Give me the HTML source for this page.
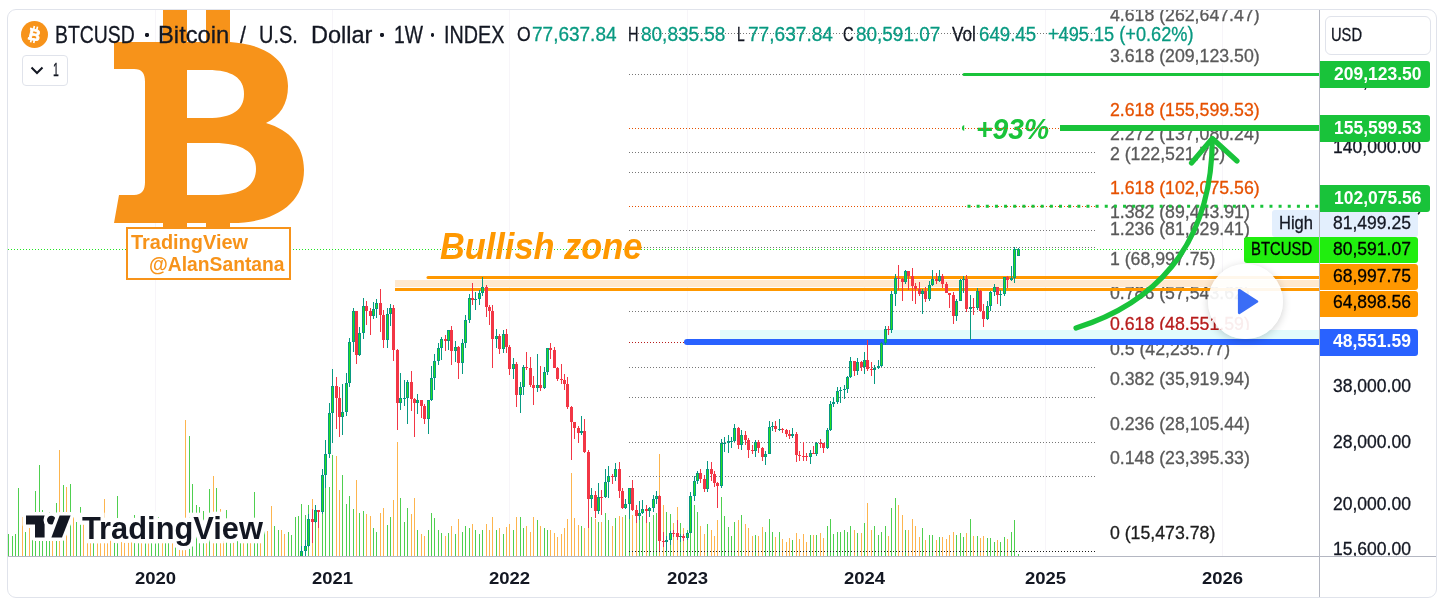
<!DOCTYPE html>
<html><head><meta charset="utf-8"><title>BTCUSD chart</title>
<style>
html,body{margin:0;padding:0;background:#fff}
body{width:1441px;height:603px;overflow:hidden;position:relative;font-family:"Liberation Sans",sans-serif}
#frame{position:absolute;left:7px;top:9px;width:1430px;height:589px;border:1px solid #e0e3eb;border-radius:9px;box-sizing:border-box;pointer-events:none}
#clip{position:absolute;left:8px;top:10px;width:1428px;height:587px;overflow:hidden;border-radius:8px}
#in{position:absolute;left:-8px;top:-10px;width:1441px;height:603px;will-change:transform}
.t{-webkit-text-stroke:0.3px currentColor;position:absolute;white-space:nowrap;line-height:1;transform-origin:0 0}
svg{position:absolute;left:0;top:0;overflow:visible}
</style></head><body>
<div id="clip"><div id="in">
<svg width="1441" height="603"><defs><clipPath id="pane"><rect x="8" y="10" width="1311" height="546"/></clipPath></defs>
<rect x="155" y="10" width="1" height="546" fill="#f7f5f9"/><rect x="332" y="10" width="1" height="546" fill="#f7f5f9"/><rect x="509" y="10" width="1" height="546" fill="#f7f5f9"/><rect x="687" y="10" width="1" height="546" fill="#f7f5f9"/><rect x="864" y="10" width="1" height="546" fill="#f7f5f9"/><rect x="1045" y="10" width="1" height="546" fill="#f7f5f9"/><rect x="1222" y="10" width="1" height="546" fill="#f7f5f9"/><rect x="8" y="534" width="1" height="22" fill="#4fcf4f"/><rect x="12" y="536" width="1" height="20" fill="#4fcf4f"/><rect x="15" y="534" width="1" height="22" fill="#4fcf4f"/><rect x="18" y="488" width="1" height="68" fill="#4fcf4f"/><rect x="22" y="517" width="1" height="39" fill="#fdb54e"/><rect x="25" y="532" width="1" height="24" fill="#4fcf4f"/><rect x="29" y="527" width="1" height="29" fill="#fdb54e"/><rect x="32" y="526" width="1" height="30" fill="#4fcf4f"/><rect x="35" y="491" width="1" height="65" fill="#4fcf4f"/><rect x="39" y="465" width="1" height="91" fill="#4fcf4f"/><rect x="42" y="510" width="1" height="46" fill="#4fcf4f"/><rect x="46" y="526" width="1" height="30" fill="#4fcf4f"/><rect x="49" y="512" width="1" height="44" fill="#4fcf4f"/><rect x="52" y="526" width="1" height="30" fill="#fdb54e"/><rect x="56" y="503" width="1" height="53" fill="#4fcf4f"/><rect x="59" y="450" width="1" height="106" fill="#fdb54e"/><rect x="63" y="485" width="1" height="71" fill="#4fcf4f"/><rect x="66" y="487" width="1" height="69" fill="#fdb54e"/><rect x="70" y="484" width="1" height="72" fill="#4fcf4f"/><rect x="73" y="517" width="1" height="39" fill="#fdb54e"/><rect x="76" y="522" width="1" height="34" fill="#4fcf4f"/><rect x="80" y="507" width="1" height="49" fill="#4fcf4f"/><rect x="83" y="522" width="1" height="34" fill="#fdb54e"/><rect x="87" y="526" width="1" height="30" fill="#fdb54e"/><rect x="90" y="526" width="1" height="30" fill="#fdb54e"/><rect x="93" y="526" width="1" height="30" fill="#4fcf4f"/><rect x="97" y="526" width="1" height="30" fill="#fdb54e"/><rect x="100" y="526" width="1" height="30" fill="#fdb54e"/><rect x="104" y="499" width="1" height="57" fill="#fdb54e"/><rect x="107" y="526" width="1" height="30" fill="#fdb54e"/><rect x="110" y="526" width="1" height="30" fill="#fdb54e"/><rect x="114" y="526" width="1" height="30" fill="#4fcf4f"/><rect x="117" y="496" width="1" height="60" fill="#4fcf4f"/><rect x="121" y="526" width="1" height="30" fill="#fdb54e"/><rect x="124" y="526" width="1" height="30" fill="#fdb54e"/><rect x="128" y="526" width="1" height="30" fill="#fdb54e"/><rect x="131" y="526" width="1" height="30" fill="#fdb54e"/><rect x="134" y="515" width="1" height="41" fill="#4fcf4f"/><rect x="138" y="526" width="1" height="30" fill="#4fcf4f"/><rect x="141" y="526" width="1" height="30" fill="#fdb54e"/><rect x="145" y="516" width="1" height="40" fill="#4fcf4f"/><rect x="148" y="526" width="1" height="30" fill="#fdb54e"/><rect x="151" y="517" width="1" height="39" fill="#4fcf4f"/><rect x="155" y="517" width="1" height="39" fill="#4fcf4f"/><rect x="158" y="517" width="1" height="39" fill="#4fcf4f"/><rect x="162" y="526" width="1" height="30" fill="#fdb54e"/><rect x="165" y="526" width="1" height="30" fill="#4fcf4f"/><rect x="168" y="526" width="1" height="30" fill="#4fcf4f"/><rect x="172" y="520" width="1" height="36" fill="#fdb54e"/><rect x="175" y="531" width="1" height="25" fill="#4fcf4f"/><rect x="179" y="531" width="1" height="25" fill="#fdb54e"/><rect x="182" y="531" width="1" height="25" fill="#fdb54e"/><rect x="185" y="420" width="1" height="136" fill="#fdb54e"/><rect x="189" y="436" width="1" height="120" fill="#4fcf4f"/><rect x="192" y="484" width="1" height="72" fill="#4fcf4f"/><rect x="196" y="505" width="1" height="51" fill="#4fcf4f"/><rect x="199" y="507" width="1" height="49" fill="#4fcf4f"/><rect x="203" y="511" width="1" height="45" fill="#4fcf4f"/><rect x="206" y="515" width="1" height="41" fill="#fdb54e"/><rect x="209" y="489" width="1" height="67" fill="#4fcf4f"/><rect x="213" y="476" width="1" height="80" fill="#fdb54e"/><rect x="216" y="488" width="1" height="68" fill="#4fcf4f"/><rect x="220" y="509" width="1" height="47" fill="#fdb54e"/><rect x="223" y="521" width="1" height="35" fill="#fdb54e"/><rect x="226" y="510" width="1" height="46" fill="#4fcf4f"/><rect x="230" y="526" width="1" height="30" fill="#4fcf4f"/><rect x="233" y="526" width="1" height="30" fill="#fdb54e"/><rect x="237" y="526" width="1" height="30" fill="#4fcf4f"/><rect x="240" y="526" width="1" height="30" fill="#4fcf4f"/><rect x="243" y="526" width="1" height="30" fill="#fdb54e"/><rect x="247" y="526" width="1" height="30" fill="#4fcf4f"/><rect x="250" y="526" width="1" height="30" fill="#fdb54e"/><rect x="254" y="492" width="1" height="64" fill="#4fcf4f"/><rect x="257" y="526" width="1" height="30" fill="#4fcf4f"/><rect x="260" y="526" width="1" height="30" fill="#fdb54e"/><rect x="264" y="528" width="1" height="28" fill="#4fcf4f"/><rect x="267" y="531" width="1" height="25" fill="#fdb54e"/><rect x="271" y="506" width="1" height="50" fill="#fdb54e"/><rect x="274" y="526" width="1" height="30" fill="#4fcf4f"/><rect x="278" y="530" width="1" height="26" fill="#4fcf4f"/><rect x="281" y="530" width="1" height="26" fill="#fdb54e"/><rect x="284" y="534" width="1" height="22" fill="#fdb54e"/><rect x="288" y="532" width="1" height="24" fill="#4fcf4f"/><rect x="291" y="535" width="1" height="21" fill="#4fcf4f"/><rect x="295" y="517" width="1" height="39" fill="#4fcf4f"/><rect x="298" y="516" width="1" height="40" fill="#4fcf4f"/><rect x="301" y="504" width="1" height="52" fill="#4fcf4f"/><rect x="305" y="515" width="1" height="41" fill="#4fcf4f"/><rect x="308" y="505" width="1" height="51" fill="#4fcf4f"/><rect x="312" y="499" width="1" height="57" fill="#fdb54e"/><rect x="315" y="505" width="1" height="51" fill="#4fcf4f"/><rect x="318" y="510" width="1" height="46" fill="#fdb54e"/><rect x="322" y="469" width="1" height="87" fill="#4fcf4f"/><rect x="325" y="440" width="1" height="116" fill="#4fcf4f"/><rect x="329" y="487" width="1" height="69" fill="#4fcf4f"/><rect x="332" y="455" width="1" height="101" fill="#4fcf4f"/><rect x="336" y="456" width="1" height="100" fill="#fdb54e"/><rect x="339" y="490" width="1" height="66" fill="#fdb54e"/><rect x="342" y="475" width="1" height="81" fill="#4fcf4f"/><rect x="346" y="504" width="1" height="52" fill="#4fcf4f"/><rect x="349" y="496" width="1" height="60" fill="#4fcf4f"/><rect x="353" y="509" width="1" height="47" fill="#4fcf4f"/><rect x="356" y="480" width="1" height="76" fill="#fdb54e"/><rect x="359" y="513" width="1" height="43" fill="#4fcf4f"/><rect x="363" y="511" width="1" height="45" fill="#4fcf4f"/><rect x="366" y="514" width="1" height="42" fill="#fdb54e"/><rect x="370" y="516" width="1" height="40" fill="#fdb54e"/><rect x="373" y="528" width="1" height="28" fill="#4fcf4f"/><rect x="376" y="532" width="1" height="24" fill="#4fcf4f"/><rect x="380" y="513" width="1" height="43" fill="#fdb54e"/><rect x="383" y="508" width="1" height="48" fill="#fdb54e"/><rect x="387" y="525" width="1" height="31" fill="#4fcf4f"/><rect x="390" y="517" width="1" height="39" fill="#4fcf4f"/><rect x="393" y="500" width="1" height="56" fill="#fdb54e"/><rect x="397" y="442" width="1" height="114" fill="#fdb54e"/><rect x="400" y="498" width="1" height="58" fill="#4fcf4f"/><rect x="404" y="522" width="1" height="34" fill="#4fcf4f"/><rect x="407" y="508" width="1" height="48" fill="#4fcf4f"/><rect x="411" y="514" width="1" height="42" fill="#fdb54e"/><rect x="414" y="498" width="1" height="58" fill="#fdb54e"/><rect x="417" y="530" width="1" height="26" fill="#4fcf4f"/><rect x="421" y="534" width="1" height="22" fill="#fdb54e"/><rect x="424" y="536" width="1" height="20" fill="#fdb54e"/><rect x="428" y="530" width="1" height="26" fill="#4fcf4f"/><rect x="431" y="513" width="1" height="43" fill="#4fcf4f"/><rect x="434" y="518" width="1" height="38" fill="#4fcf4f"/><rect x="438" y="530" width="1" height="26" fill="#4fcf4f"/><rect x="441" y="533" width="1" height="23" fill="#4fcf4f"/><rect x="445" y="536" width="1" height="20" fill="#fdb54e"/><rect x="448" y="533" width="1" height="23" fill="#4fcf4f"/><rect x="451" y="526" width="1" height="30" fill="#fdb54e"/><rect x="455" y="534" width="1" height="22" fill="#4fcf4f"/><rect x="458" y="519" width="1" height="37" fill="#fdb54e"/><rect x="462" y="532" width="1" height="24" fill="#4fcf4f"/><rect x="465" y="526" width="1" height="30" fill="#4fcf4f"/><rect x="469" y="528" width="1" height="28" fill="#4fcf4f"/><rect x="472" y="524" width="1" height="32" fill="#fdb54e"/><rect x="475" y="530" width="1" height="26" fill="#4fcf4f"/><rect x="479" y="534" width="1" height="22" fill="#4fcf4f"/><rect x="482" y="530" width="1" height="26" fill="#4fcf4f"/><rect x="486" y="524" width="1" height="32" fill="#fdb54e"/><rect x="489" y="530" width="1" height="26" fill="#fdb54e"/><rect x="492" y="517" width="1" height="39" fill="#fdb54e"/><rect x="496" y="530" width="1" height="26" fill="#4fcf4f"/><rect x="499" y="528" width="1" height="28" fill="#fdb54e"/><rect x="503" y="534" width="1" height="22" fill="#4fcf4f"/><rect x="506" y="527" width="1" height="29" fill="#fdb54e"/><rect x="509" y="524" width="1" height="32" fill="#fdb54e"/><rect x="513" y="530" width="1" height="26" fill="#4fcf4f"/><rect x="516" y="517" width="1" height="39" fill="#fdb54e"/><rect x="520" y="517" width="1" height="39" fill="#4fcf4f"/><rect x="523" y="528" width="1" height="28" fill="#4fcf4f"/><rect x="526" y="526" width="1" height="30" fill="#fdb54e"/><rect x="530" y="532" width="1" height="24" fill="#fdb54e"/><rect x="533" y="517" width="1" height="39" fill="#fdb54e"/><rect x="537" y="520" width="1" height="36" fill="#4fcf4f"/><rect x="540" y="526" width="1" height="30" fill="#fdb54e"/><rect x="544" y="528" width="1" height="28" fill="#4fcf4f"/><rect x="547" y="530" width="1" height="26" fill="#4fcf4f"/><rect x="550" y="530" width="1" height="26" fill="#fdb54e"/><rect x="554" y="533" width="1" height="23" fill="#fdb54e"/><rect x="557" y="537" width="1" height="19" fill="#fdb54e"/><rect x="561" y="534" width="1" height="22" fill="#fdb54e"/><rect x="564" y="528" width="1" height="28" fill="#fdb54e"/><rect x="567" y="519" width="1" height="37" fill="#fdb54e"/><rect x="571" y="473" width="1" height="83" fill="#fdb54e"/><rect x="574" y="518" width="1" height="38" fill="#fdb54e"/><rect x="578" y="525" width="1" height="31" fill="#fdb54e"/><rect x="581" y="526" width="1" height="30" fill="#4fcf4f"/><rect x="584" y="528" width="1" height="28" fill="#fdb54e"/><rect x="588" y="520" width="1" height="36" fill="#fdb54e"/><rect x="591" y="517" width="1" height="39" fill="#4fcf4f"/><rect x="595" y="519" width="1" height="37" fill="#fdb54e"/><rect x="598" y="522" width="1" height="34" fill="#4fcf4f"/><rect x="601" y="522" width="1" height="34" fill="#fdb54e"/><rect x="605" y="513" width="1" height="43" fill="#4fcf4f"/><rect x="608" y="520" width="1" height="36" fill="#4fcf4f"/><rect x="612" y="526" width="1" height="30" fill="#fdb54e"/><rect x="615" y="518" width="1" height="38" fill="#4fcf4f"/><rect x="619" y="516" width="1" height="40" fill="#fdb54e"/><rect x="622" y="517" width="1" height="39" fill="#fdb54e"/><rect x="625" y="515" width="1" height="41" fill="#4fcf4f"/><rect x="629" y="515" width="1" height="41" fill="#4fcf4f"/><rect x="632" y="515" width="1" height="41" fill="#fdb54e"/><rect x="636" y="518" width="1" height="38" fill="#fdb54e"/><rect x="639" y="515" width="1" height="41" fill="#4fcf4f"/><rect x="642" y="516" width="1" height="40" fill="#4fcf4f"/><rect x="646" y="520" width="1" height="36" fill="#fdb54e"/><rect x="649" y="522" width="1" height="34" fill="#4fcf4f"/><rect x="653" y="515" width="1" height="41" fill="#4fcf4f"/><rect x="656" y="513" width="1" height="43" fill="#4fcf4f"/><rect x="659" y="454" width="1" height="102" fill="#fdb54e"/><rect x="663" y="505" width="1" height="51" fill="#fdb54e"/><rect x="666" y="512" width="1" height="44" fill="#4fcf4f"/><rect x="670" y="514" width="1" height="42" fill="#4fcf4f"/><rect x="673" y="523" width="1" height="33" fill="#fdb54e"/><rect x="677" y="507" width="1" height="49" fill="#fdb54e"/><rect x="680" y="523" width="1" height="33" fill="#4fcf4f"/><rect x="683" y="528" width="1" height="28" fill="#fdb54e"/><rect x="687" y="530" width="1" height="26" fill="#4fcf4f"/><rect x="690" y="526" width="1" height="30" fill="#4fcf4f"/><rect x="694" y="505" width="1" height="51" fill="#4fcf4f"/><rect x="697" y="512" width="1" height="44" fill="#4fcf4f"/><rect x="700" y="526" width="1" height="30" fill="#fdb54e"/><rect x="704" y="534" width="1" height="22" fill="#fdb54e"/><rect x="707" y="524" width="1" height="32" fill="#4fcf4f"/><rect x="711" y="530" width="1" height="26" fill="#fdb54e"/><rect x="714" y="536" width="1" height="20" fill="#fdb54e"/><rect x="717" y="520" width="1" height="36" fill="#fdb54e"/><rect x="721" y="497" width="1" height="59" fill="#4fcf4f"/><rect x="724" y="516" width="1" height="40" fill="#4fcf4f"/><rect x="728" y="527" width="1" height="29" fill="#4fcf4f"/><rect x="731" y="536" width="1" height="20" fill="#4fcf4f"/><rect x="734" y="522" width="1" height="34" fill="#4fcf4f"/><rect x="738" y="520" width="1" height="36" fill="#fdb54e"/><rect x="741" y="515" width="1" height="41" fill="#4fcf4f"/><rect x="745" y="524" width="1" height="32" fill="#fdb54e"/><rect x="748" y="528" width="1" height="28" fill="#fdb54e"/><rect x="752" y="536" width="1" height="20" fill="#fdb54e"/><rect x="755" y="535" width="1" height="21" fill="#4fcf4f"/><rect x="758" y="536" width="1" height="20" fill="#fdb54e"/><rect x="762" y="527" width="1" height="29" fill="#fdb54e"/><rect x="765" y="532" width="1" height="24" fill="#4fcf4f"/><rect x="769" y="519" width="1" height="37" fill="#4fcf4f"/><rect x="772" y="532" width="1" height="24" fill="#4fcf4f"/><rect x="775" y="537" width="1" height="19" fill="#fdb54e"/><rect x="779" y="532" width="1" height="24" fill="#4fcf4f"/><rect x="782" y="539" width="1" height="17" fill="#fdb54e"/><rect x="786" y="542" width="1" height="14" fill="#fdb54e"/><rect x="789" y="538" width="1" height="18" fill="#fdb54e"/><rect x="792" y="540" width="1" height="16" fill="#4fcf4f"/><rect x="796" y="533" width="1" height="23" fill="#fdb54e"/><rect x="799" y="539" width="1" height="17" fill="#fdb54e"/><rect x="803" y="534" width="1" height="22" fill="#fdb54e"/><rect x="806" y="542" width="1" height="14" fill="#fdb54e"/><rect x="810" y="535" width="1" height="21" fill="#4fcf4f"/><rect x="813" y="535" width="1" height="21" fill="#fdb54e"/><rect x="816" y="535" width="1" height="21" fill="#4fcf4f"/><rect x="820" y="533" width="1" height="23" fill="#fdb54e"/><rect x="823" y="538" width="1" height="18" fill="#fdb54e"/><rect x="827" y="526" width="1" height="30" fill="#4fcf4f"/><rect x="830" y="519" width="1" height="37" fill="#4fcf4f"/><rect x="833" y="534" width="1" height="22" fill="#4fcf4f"/><rect x="837" y="532" width="1" height="24" fill="#4fcf4f"/><rect x="840" y="532" width="1" height="24" fill="#4fcf4f"/><rect x="844" y="530" width="1" height="26" fill="#4fcf4f"/><rect x="847" y="532" width="1" height="24" fill="#4fcf4f"/><rect x="850" y="526" width="1" height="30" fill="#4fcf4f"/><rect x="854" y="530" width="1" height="26" fill="#fdb54e"/><rect x="857" y="533" width="1" height="23" fill="#4fcf4f"/><rect x="861" y="533" width="1" height="23" fill="#fdb54e"/><rect x="864" y="523" width="1" height="33" fill="#4fcf4f"/><rect x="867" y="503" width="1" height="53" fill="#fdb54e"/><rect x="871" y="530" width="1" height="26" fill="#fdb54e"/><rect x="874" y="526" width="1" height="30" fill="#4fcf4f"/><rect x="878" y="535" width="1" height="21" fill="#4fcf4f"/><rect x="881" y="532" width="1" height="24" fill="#4fcf4f"/><rect x="885" y="526" width="1" height="30" fill="#4fcf4f"/><rect x="888" y="536" width="1" height="20" fill="#fdb54e"/><rect x="891" y="508" width="1" height="48" fill="#4fcf4f"/><rect x="895" y="498" width="1" height="58" fill="#4fcf4f"/><rect x="898" y="505" width="1" height="51" fill="#fdb54e"/><rect x="902" y="515" width="1" height="41" fill="#fdb54e"/><rect x="905" y="530" width="1" height="26" fill="#4fcf4f"/><rect x="908" y="530" width="1" height="26" fill="#fdb54e"/><rect x="912" y="519" width="1" height="37" fill="#fdb54e"/><rect x="915" y="526" width="1" height="30" fill="#fdb54e"/><rect x="919" y="537" width="1" height="19" fill="#fdb54e"/><rect x="922" y="528" width="1" height="28" fill="#4fcf4f"/><rect x="925" y="540" width="1" height="16" fill="#fdb54e"/><rect x="929" y="535" width="1" height="21" fill="#4fcf4f"/><rect x="932" y="535" width="1" height="21" fill="#4fcf4f"/><rect x="936" y="540" width="1" height="16" fill="#fdb54e"/><rect x="939" y="537" width="1" height="19" fill="#4fcf4f"/><rect x="942" y="537" width="1" height="19" fill="#fdb54e"/><rect x="946" y="539" width="1" height="17" fill="#fdb54e"/><rect x="949" y="535" width="1" height="21" fill="#fdb54e"/><rect x="953" y="532" width="1" height="24" fill="#fdb54e"/><rect x="956" y="535" width="1" height="21" fill="#4fcf4f"/><rect x="960" y="533" width="1" height="23" fill="#4fcf4f"/><rect x="963" y="537" width="1" height="19" fill="#4fcf4f"/><rect x="966" y="533" width="1" height="23" fill="#fdb54e"/><rect x="970" y="519" width="1" height="37" fill="#4fcf4f"/><rect x="973" y="536" width="1" height="20" fill="#fdb54e"/><rect x="977" y="536" width="1" height="20" fill="#4fcf4f"/><rect x="980" y="538" width="1" height="18" fill="#fdb54e"/><rect x="983" y="536" width="1" height="20" fill="#fdb54e"/><rect x="987" y="538" width="1" height="18" fill="#4fcf4f"/><rect x="990" y="538" width="1" height="18" fill="#4fcf4f"/><rect x="994" y="542" width="1" height="14" fill="#4fcf4f"/><rect x="997" y="540" width="1" height="16" fill="#fdb54e"/><rect x="1000" y="542" width="1" height="14" fill="#4fcf4f"/><rect x="1004" y="537" width="1" height="19" fill="#4fcf4f"/><rect x="1007" y="539" width="1" height="17" fill="#fdb54e"/><rect x="1011" y="532" width="1" height="24" fill="#4fcf4f"/><rect x="1014" y="520" width="1" height="36" fill="#4fcf4f"/><rect x="1018" y="554" width="1" height="2" fill="#4fcf4f"/><path d="M114,42 L163,42 L163,9 L187,9 L187,42 L206,42 L206,9 L230,9 L230,42 C262,44 288,58 288,86 C288,104 280,116 266,123 C290,130 304,146 304,170 C304,204 274,223 232,223 L230,223 L230,228 L206,228 L206,223 L187,223 L187,228 L163,228 L163,223 L114,223 L119,195 L134,195 C142,195 145,190 145,182 L145,82 C145,73 142,69 134,69 L114,69 Z M187,70 L187,118 L208,118 C232,118 244,110 244,94 C244,78 232,70 208,70 Z M187,143 L187,195 L214,195 C242,195 256,186 256,169 C256,152 242,143 214,143 Z" fill="#f7931a" fill-rule="evenodd"/><line x1="8" x2="1319" y1="249.5" y2="249.5" stroke="#1fe61f" stroke-width="1" stroke-dasharray="1 2"/><line x1="629" x2="1096" y1="33.5" y2="33.5" stroke="#777" stroke-width="1" stroke-dasharray="1 2"/><line x1="629" x2="1096" y1="74.5" y2="74.5" stroke="#777" stroke-width="1" stroke-dasharray="1 2"/><line x1="629" x2="1096" y1="128.5" y2="128.5" stroke="#e65100" stroke-width="1" stroke-dasharray="1 2"/><line x1="629" x2="1096" y1="152.5" y2="152.5" stroke="#777" stroke-width="1" stroke-dasharray="1 2"/><line x1="629" x2="1096" y1="172.5" y2="172.5" stroke="#777" stroke-width="1" stroke-dasharray="1 2"/><line x1="629" x2="1096" y1="206.5" y2="206.5" stroke="#e65100" stroke-width="1" stroke-dasharray="1 2"/><line x1="629" x2="1096" y1="230.5" y2="230.5" stroke="#777" stroke-width="1" stroke-dasharray="1 2"/><line x1="629" x2="1096" y1="247.5" y2="247.5" stroke="#777" stroke-width="1" stroke-dasharray="1 2"/><line x1="629" x2="1096" y1="277.5" y2="277.5" stroke="#777" stroke-width="1" stroke-dasharray="1 2"/><line x1="629" x2="1096" y1="311.5" y2="311.5" stroke="#777" stroke-width="1" stroke-dasharray="1 2"/><line x1="629" x2="1096" y1="342.5" y2="342.5" stroke="#b71c1c" stroke-width="1" stroke-dasharray="1 2"/><line x1="629" x2="1096" y1="367.5" y2="367.5" stroke="#777" stroke-width="1" stroke-dasharray="1 2"/><line x1="629" x2="1096" y1="397.5" y2="397.5" stroke="#777" stroke-width="1" stroke-dasharray="1 2"/><line x1="629" x2="1096" y1="442.5" y2="442.5" stroke="#777" stroke-width="1" stroke-dasharray="1 2"/><line x1="629" x2="1096" y1="476.5" y2="476.5" stroke="#777" stroke-width="1" stroke-dasharray="1 2"/><line x1="629" x2="1096" y1="551.5" y2="551.5" stroke="#1c1c1c" stroke-width="1" stroke-dasharray="1 2"/>
</svg>
<div class="t" style="left:1109.90px;top:7.00px;font-size:17.73px;color:#5a5a5a;">4.618 (262,647.47)</div><div class="t" style="left:1109.90px;top:48.00px;font-size:17.73px;color:#5a5a5a;">3.618 (209,123.50)</div><div class="t" style="left:1109.90px;top:102.00px;font-size:17.73px;color:#e65100;">2.618 (155,599.53)</div><div class="t" style="left:1109.90px;top:126.00px;font-size:17.73px;color:#5a5a5a;">2.272 (137,080.24)</div><div class="t" style="left:1109.90px;top:146.00px;font-size:17.73px;color:#5a5a5a;">2 (122,521.72)</div><div class="t" style="left:1109.90px;top:180.00px;font-size:17.73px;color:#e65100;">1.618 (102,075.56)</div><div class="t" style="left:1109.90px;top:204.00px;font-size:17.73px;color:#5a5a5a;">1.382 (89,443.91)</div><div class="t" style="left:1109.90px;top:221.00px;font-size:17.73px;color:#5a5a5a;">1.236 (81,629.41)</div><div class="t" style="left:1109.90px;top:251.00px;font-size:17.73px;color:#5a5a5a;">1 (68,997.75)</div><div class="t" style="left:1109.90px;top:285.00px;font-size:17.73px;color:#5a5a5a;">0.786 (57,543.62)</div><div class="t" style="left:1109.90px;top:316.00px;font-size:17.73px;color:#b71c1c;">0.618 (48,551.59)</div><div class="t" style="left:1109.90px;top:341.00px;font-size:17.73px;color:#5a5a5a;">0.5 (42,235.77)</div><div class="t" style="left:1109.90px;top:371.00px;font-size:17.73px;color:#5a5a5a;">0.382 (35,919.94)</div><div class="t" style="left:1109.90px;top:416.00px;font-size:17.73px;color:#5a5a5a;">0.236 (28,105.44)</div><div class="t" style="left:1109.90px;top:450.00px;font-size:17.73px;color:#5a5a5a;">0.148 (23,395.33)</div><div class="t" style="left:1109.90px;top:525.00px;font-size:17.73px;color:#1c1c1c;">0 (15,473.78)</div>
<svg width="1441" height="603">
<rect x="395" y="280" width="924" height="7" fill="#ffe9cf"/><rect x="395" y="288" width="924" height="3" fill="#ff9800"/><line x1="428" x2="1319" y1="277.5" y2="277.5" stroke="#ff9800" stroke-width="3" stroke-linecap="round"/><rect x="720" y="330" width="599" height="9" fill="#e2fbfc"/><line x1="687" x2="1319" y1="342" y2="342" stroke="#2962ff" stroke-width="6" stroke-linecap="round"/><line x1="964" x2="1319" y1="74.5" y2="74.5" stroke="#19c33a" stroke-width="3" stroke-linecap="round"/><rect x="1060" y="125" width="259" height="6" fill="#19c33a"/><path d="M964.2,125 A3.1,3.1 0 0 0 964.2,131 Z" fill="#19c33a"/><line x1="967.5" x2="1319" y1="206.3" y2="206.3" stroke="#19c33a" stroke-width="3" stroke-dasharray="3 6.15"/><path d="M1076,328 C1150,305 1212,250 1212.3,139" fill="none" stroke="#19c33a" stroke-width="5.2" stroke-linecap="round"/><path d="M1191.5,163 L1212.3,138.5 L1237,161" fill="none" stroke="#19c33a" stroke-width="5.2" stroke-linecap="round" stroke-linejoin="round"/>
<g clip-path="url(#pane)"><rect x="298" y="568" width="1" height="17" fill="#089981"/><rect x="297" y="573" width="3" height="10" fill="#089981"/><rect x="298" y="574" width="1" height="8" fill="#22e01f"/><rect x="301" y="546" width="1" height="34" fill="#089981"/><rect x="300" y="551" width="3" height="22" fill="#089981"/><rect x="301" y="552" width="1" height="20" fill="#22e01f"/><rect x="305" y="540" width="1" height="19" fill="#089981"/><rect x="304" y="546" width="3" height="5" fill="#089981"/><rect x="305" y="547" width="1" height="3" fill="#22e01f"/><rect x="308" y="514" width="1" height="33" fill="#089981"/><rect x="307" y="519" width="3" height="27" fill="#089981"/><rect x="308" y="520" width="1" height="25" fill="#22e01f"/><rect x="312" y="509" width="1" height="34" fill="#f23645"/><rect x="311" y="519" width="3" height="3" fill="#f23645"/><rect x="315" y="505" width="1" height="18" fill="#089981"/><rect x="314" y="510" width="3" height="12" fill="#089981"/><rect x="315" y="511" width="1" height="10" fill="#22e01f"/><rect x="318" y="510" width="1" height="18" fill="#f23645"/><rect x="317" y="510" width="3" height="2" fill="#f23645"/><rect x="322" y="469" width="1" height="45" fill="#089981"/><rect x="321" y="475" width="3" height="37" fill="#089981"/><rect x="322" y="476" width="1" height="35" fill="#22e01f"/><rect x="325" y="440" width="1" height="48" fill="#089981"/><rect x="324" y="454" width="3" height="21" fill="#089981"/><rect x="325" y="455" width="1" height="19" fill="#22e01f"/><rect x="329" y="403" width="1" height="55" fill="#089981"/><rect x="328" y="413" width="3" height="41" fill="#089981"/><rect x="329" y="414" width="1" height="39" fill="#22e01f"/><rect x="332" y="369" width="1" height="74" fill="#089981"/><rect x="331" y="386" width="3" height="27" fill="#089981"/><rect x="332" y="387" width="1" height="25" fill="#22e01f"/><rect x="336" y="377" width="1" height="52" fill="#f23645"/><rect x="335" y="386" width="3" height="12" fill="#f23645"/><rect x="339" y="387" width="1" height="50" fill="#f23645"/><rect x="338" y="398" width="3" height="19" fill="#f23645"/><rect x="342" y="384" width="1" height="51" fill="#089981"/><rect x="341" y="412" width="3" height="5" fill="#089981"/><rect x="342" y="413" width="1" height="3" fill="#22e01f"/><rect x="346" y="373" width="1" height="43" fill="#089981"/><rect x="345" y="383" width="3" height="29" fill="#089981"/><rect x="346" y="384" width="1" height="27" fill="#22e01f"/><rect x="349" y="338" width="1" height="49" fill="#089981"/><rect x="348" y="342" width="3" height="41" fill="#089981"/><rect x="349" y="343" width="1" height="39" fill="#22e01f"/><rect x="353" y="308" width="1" height="44" fill="#089981"/><rect x="352" y="311" width="3" height="31" fill="#089981"/><rect x="353" y="312" width="1" height="29" fill="#22e01f"/><rect x="356" y="311" width="1" height="53" fill="#f23645"/><rect x="355" y="311" width="3" height="44" fill="#f23645"/><rect x="359" y="327" width="1" height="29" fill="#089981"/><rect x="358" y="333" width="3" height="22" fill="#089981"/><rect x="359" y="334" width="1" height="20" fill="#22e01f"/><rect x="363" y="298" width="1" height="41" fill="#089981"/><rect x="362" y="306" width="3" height="27" fill="#089981"/><rect x="363" y="307" width="1" height="25" fill="#22e01f"/><rect x="366" y="301" width="1" height="24" fill="#f23645"/><rect x="365" y="306" width="3" height="5" fill="#f23645"/><rect x="370" y="308" width="1" height="27" fill="#f23645"/><rect x="369" y="311" width="3" height="5" fill="#f23645"/><rect x="373" y="302" width="1" height="17" fill="#089981"/><rect x="372" y="309" width="3" height="7" fill="#089981"/><rect x="373" y="310" width="1" height="5" fill="#22e01f"/><rect x="376" y="299" width="1" height="19" fill="#089981"/><rect x="375" y="303" width="3" height="6" fill="#089981"/><rect x="376" y="304" width="1" height="4" fill="#22e01f"/><rect x="380" y="289" width="1" height="43" fill="#f23645"/><rect x="379" y="303" width="3" height="12" fill="#f23645"/><rect x="383" y="310" width="1" height="38" fill="#f23645"/><rect x="382" y="315" width="3" height="25" fill="#f23645"/><rect x="387" y="308" width="1" height="40" fill="#089981"/><rect x="386" y="314" width="3" height="26" fill="#089981"/><rect x="387" y="315" width="1" height="24" fill="#22e01f"/><rect x="390" y="304" width="1" height="22" fill="#089981"/><rect x="389" y="308" width="3" height="6" fill="#089981"/><rect x="390" y="309" width="1" height="4" fill="#22e01f"/><rect x="393" y="305" width="1" height="56" fill="#f23645"/><rect x="392" y="308" width="3" height="42" fill="#f23645"/><rect x="397" y="349" width="1" height="81" fill="#f23645"/><rect x="396" y="350" width="3" height="53" fill="#f23645"/><rect x="400" y="373" width="1" height="37" fill="#089981"/><rect x="399" y="398" width="3" height="5" fill="#089981"/><rect x="400" y="399" width="1" height="3" fill="#22e01f"/><rect x="404" y="380" width="1" height="26" fill="#089981"/><rect x="403" y="398" width="3" height="1" fill="#089981"/><rect x="407" y="380" width="1" height="44" fill="#089981"/><rect x="406" y="382" width="3" height="16" fill="#089981"/><rect x="407" y="383" width="1" height="14" fill="#22e01f"/><rect x="411" y="371" width="1" height="40" fill="#f23645"/><rect x="410" y="382" width="3" height="17" fill="#f23645"/><rect x="414" y="398" width="1" height="39" fill="#f23645"/><rect x="413" y="399" width="3" height="4" fill="#f23645"/><rect x="417" y="394" width="1" height="20" fill="#089981"/><rect x="416" y="400" width="3" height="3" fill="#089981"/><rect x="417" y="401" width="1" height="1" fill="#22e01f"/><rect x="421" y="400" width="1" height="18" fill="#f23645"/><rect x="420" y="400" width="3" height="6" fill="#f23645"/><rect x="424" y="404" width="1" height="20" fill="#f23645"/><rect x="423" y="406" width="3" height="13" fill="#f23645"/><rect x="428" y="400" width="1" height="34" fill="#089981"/><rect x="427" y="400" width="3" height="19" fill="#089981"/><rect x="428" y="401" width="1" height="17" fill="#22e01f"/><rect x="431" y="366" width="1" height="35" fill="#089981"/><rect x="430" y="378" width="3" height="22" fill="#089981"/><rect x="431" y="379" width="1" height="20" fill="#22e01f"/><rect x="434" y="354" width="1" height="36" fill="#089981"/><rect x="433" y="361" width="3" height="17" fill="#089981"/><rect x="434" y="362" width="1" height="15" fill="#22e01f"/><rect x="438" y="343" width="1" height="22" fill="#089981"/><rect x="437" y="348" width="3" height="13" fill="#089981"/><rect x="438" y="349" width="1" height="11" fill="#22e01f"/><rect x="441" y="337" width="1" height="23" fill="#089981"/><rect x="440" y="339" width="3" height="9" fill="#089981"/><rect x="441" y="340" width="1" height="7" fill="#22e01f"/><rect x="445" y="335" width="1" height="16" fill="#f23645"/><rect x="444" y="339" width="3" height="2" fill="#f23645"/><rect x="448" y="330" width="1" height="20" fill="#089981"/><rect x="447" y="330" width="3" height="11" fill="#089981"/><rect x="448" y="331" width="1" height="9" fill="#22e01f"/><rect x="451" y="326" width="1" height="39" fill="#f23645"/><rect x="450" y="330" width="3" height="21" fill="#f23645"/><rect x="455" y="341" width="1" height="21" fill="#089981"/><rect x="454" y="347" width="3" height="4" fill="#089981"/><rect x="455" y="348" width="1" height="2" fill="#22e01f"/><rect x="458" y="346" width="1" height="33" fill="#f23645"/><rect x="457" y="347" width="3" height="16" fill="#f23645"/><rect x="462" y="339" width="1" height="35" fill="#089981"/><rect x="461" y="343" width="3" height="20" fill="#089981"/><rect x="462" y="344" width="1" height="18" fill="#22e01f"/><rect x="465" y="315" width="1" height="33" fill="#089981"/><rect x="464" y="320" width="3" height="23" fill="#089981"/><rect x="465" y="321" width="1" height="21" fill="#22e01f"/><rect x="469" y="294" width="1" height="29" fill="#089981"/><rect x="468" y="298" width="3" height="22" fill="#089981"/><rect x="469" y="299" width="1" height="20" fill="#22e01f"/><rect x="472" y="283" width="1" height="22" fill="#f23645"/><rect x="471" y="298" width="3" height="2" fill="#f23645"/><rect x="475" y="292" width="1" height="18" fill="#089981"/><rect x="474" y="299" width="3" height="1" fill="#089981"/><rect x="479" y="290" width="1" height="15" fill="#089981"/><rect x="478" y="293" width="3" height="6" fill="#089981"/><rect x="479" y="294" width="1" height="4" fill="#22e01f"/><rect x="482" y="277" width="1" height="19" fill="#089981"/><rect x="481" y="287" width="3" height="6" fill="#089981"/><rect x="482" y="288" width="1" height="4" fill="#22e01f"/><rect x="486" y="285" width="1" height="32" fill="#f23645"/><rect x="485" y="287" width="3" height="20" fill="#f23645"/><rect x="489" y="305" width="1" height="20" fill="#f23645"/><rect x="488" y="307" width="3" height="4" fill="#f23645"/><rect x="492" y="305" width="1" height="63" fill="#f23645"/><rect x="491" y="311" width="3" height="28" fill="#f23645"/><rect x="496" y="329" width="1" height="19" fill="#089981"/><rect x="495" y="336" width="3" height="3" fill="#089981"/><rect x="496" y="337" width="1" height="1" fill="#22e01f"/><rect x="499" y="334" width="1" height="20" fill="#f23645"/><rect x="498" y="336" width="3" height="13" fill="#f23645"/><rect x="503" y="330" width="1" height="23" fill="#089981"/><rect x="502" y="334" width="3" height="15" fill="#089981"/><rect x="503" y="335" width="1" height="13" fill="#22e01f"/><rect x="506" y="329" width="1" height="24" fill="#f23645"/><rect x="505" y="334" width="3" height="13" fill="#f23645"/><rect x="509" y="345" width="1" height="30" fill="#f23645"/><rect x="508" y="347" width="3" height="22" fill="#f23645"/><rect x="513" y="358" width="1" height="21" fill="#089981"/><rect x="512" y="364" width="3" height="5" fill="#089981"/><rect x="513" y="365" width="1" height="3" fill="#22e01f"/><rect x="516" y="362" width="1" height="45" fill="#f23645"/><rect x="515" y="364" width="3" height="31" fill="#f23645"/><rect x="520" y="382" width="1" height="31" fill="#089981"/><rect x="519" y="387" width="3" height="8" fill="#089981"/><rect x="520" y="388" width="1" height="6" fill="#22e01f"/><rect x="523" y="365" width="1" height="30" fill="#089981"/><rect x="522" y="367" width="3" height="20" fill="#089981"/><rect x="523" y="368" width="1" height="18" fill="#22e01f"/><rect x="526" y="352" width="1" height="18" fill="#f23645"/><rect x="525" y="367" width="3" height="1" fill="#f23645"/><rect x="530" y="357" width="1" height="30" fill="#f23645"/><rect x="529" y="368" width="3" height="17" fill="#f23645"/><rect x="533" y="376" width="1" height="29" fill="#f23645"/><rect x="532" y="385" width="3" height="3" fill="#f23645"/><rect x="537" y="354" width="1" height="38" fill="#089981"/><rect x="536" y="385" width="3" height="3" fill="#089981"/><rect x="537" y="386" width="1" height="1" fill="#22e01f"/><rect x="540" y="366" width="1" height="25" fill="#f23645"/><rect x="539" y="385" width="3" height="3" fill="#f23645"/><rect x="544" y="367" width="1" height="22" fill="#089981"/><rect x="543" y="372" width="3" height="16" fill="#089981"/><rect x="544" y="373" width="1" height="14" fill="#22e01f"/><rect x="547" y="348" width="1" height="27" fill="#089981"/><rect x="546" y="348" width="3" height="24" fill="#089981"/><rect x="547" y="349" width="1" height="22" fill="#22e01f"/><rect x="550" y="343" width="1" height="16" fill="#f23645"/><rect x="549" y="348" width="3" height="2" fill="#f23645"/><rect x="554" y="347" width="1" height="21" fill="#f23645"/><rect x="553" y="350" width="3" height="18" fill="#f23645"/><rect x="557" y="367" width="1" height="14" fill="#f23645"/><rect x="556" y="368" width="3" height="11" fill="#f23645"/><rect x="561" y="364" width="1" height="20" fill="#f23645"/><rect x="560" y="379" width="3" height="1" fill="#f23645"/><rect x="564" y="374" width="1" height="16" fill="#f23645"/><rect x="563" y="380" width="3" height="4" fill="#f23645"/><rect x="567" y="377" width="1" height="32" fill="#f23645"/><rect x="566" y="384" width="3" height="23" fill="#f23645"/><rect x="571" y="406" width="1" height="54" fill="#f23645"/><rect x="570" y="407" width="3" height="15" fill="#f23645"/><rect x="574" y="422" width="1" height="17" fill="#f23645"/><rect x="573" y="422" width="3" height="6" fill="#f23645"/><rect x="578" y="426" width="1" height="17" fill="#f23645"/><rect x="577" y="428" width="3" height="5" fill="#f23645"/><rect x="581" y="416" width="1" height="19" fill="#089981"/><rect x="580" y="431" width="3" height="2" fill="#089981"/><rect x="584" y="419" width="1" height="34" fill="#f23645"/><rect x="583" y="431" width="3" height="21" fill="#f23645"/><rect x="588" y="450" width="1" height="78" fill="#f23645"/><rect x="587" y="452" width="3" height="47" fill="#f23645"/><rect x="591" y="488" width="1" height="20" fill="#089981"/><rect x="590" y="495" width="3" height="4" fill="#089981"/><rect x="591" y="496" width="1" height="2" fill="#22e01f"/><rect x="595" y="491" width="1" height="27" fill="#f23645"/><rect x="594" y="495" width="3" height="16" fill="#f23645"/><rect x="598" y="483" width="1" height="31" fill="#089981"/><rect x="597" y="497" width="3" height="14" fill="#089981"/><rect x="598" y="498" width="1" height="12" fill="#22e01f"/><rect x="601" y="490" width="1" height="25" fill="#f23645"/><rect x="600" y="497" width="3" height="1" fill="#f23645"/><rect x="605" y="469" width="1" height="29" fill="#089981"/><rect x="604" y="482" width="3" height="15" fill="#089981"/><rect x="605" y="483" width="1" height="13" fill="#22e01f"/><rect x="608" y="466" width="1" height="32" fill="#089981"/><rect x="607" y="476" width="3" height="6" fill="#089981"/><rect x="608" y="477" width="1" height="4" fill="#22e01f"/><rect x="612" y="474" width="1" height="10" fill="#f23645"/><rect x="611" y="476" width="3" height="1" fill="#f23645"/><rect x="615" y="463" width="1" height="18" fill="#089981"/><rect x="614" y="469" width="3" height="8" fill="#089981"/><rect x="615" y="470" width="1" height="6" fill="#22e01f"/><rect x="619" y="462" width="1" height="36" fill="#f23645"/><rect x="618" y="469" width="3" height="22" fill="#f23645"/><rect x="622" y="488" width="1" height="21" fill="#f23645"/><rect x="621" y="491" width="3" height="17" fill="#f23645"/><rect x="625" y="499" width="1" height="10" fill="#089981"/><rect x="624" y="504" width="3" height="4" fill="#089981"/><rect x="625" y="505" width="1" height="2" fill="#22e01f"/><rect x="629" y="488" width="1" height="31" fill="#089981"/><rect x="628" y="488" width="3" height="16" fill="#089981"/><rect x="629" y="489" width="1" height="14" fill="#22e01f"/><rect x="632" y="480" width="1" height="31" fill="#f23645"/><rect x="631" y="488" width="3" height="22" fill="#f23645"/><rect x="636" y="505" width="1" height="18" fill="#f23645"/><rect x="635" y="510" width="3" height="6" fill="#f23645"/><rect x="639" y="501" width="1" height="19" fill="#089981"/><rect x="638" y="513" width="3" height="3" fill="#089981"/><rect x="639" y="514" width="1" height="1" fill="#22e01f"/><rect x="642" y="500" width="1" height="14" fill="#089981"/><rect x="641" y="509" width="3" height="4" fill="#089981"/><rect x="642" y="510" width="1" height="2" fill="#22e01f"/><rect x="646" y="505" width="1" height="18" fill="#f23645"/><rect x="645" y="509" width="3" height="2" fill="#f23645"/><rect x="649" y="507" width="1" height="10" fill="#089981"/><rect x="648" y="508" width="3" height="3" fill="#089981"/><rect x="649" y="509" width="1" height="1" fill="#22e01f"/><rect x="653" y="495" width="1" height="17" fill="#089981"/><rect x="652" y="499" width="3" height="9" fill="#089981"/><rect x="653" y="500" width="1" height="7" fill="#22e01f"/><rect x="656" y="491" width="1" height="13" fill="#089981"/><rect x="655" y="496" width="3" height="3" fill="#089981"/><rect x="656" y="497" width="1" height="1" fill="#22e01f"/><rect x="659" y="495" width="1" height="56" fill="#f23645"/><rect x="658" y="496" width="3" height="45" fill="#f23645"/><rect x="663" y="532" width="1" height="15" fill="#f23645"/><rect x="662" y="541" width="3" height="1" fill="#f23645"/><rect x="666" y="536" width="1" height="15" fill="#089981"/><rect x="665" y="540" width="3" height="2" fill="#089981"/><rect x="670" y="531" width="1" height="14" fill="#089981"/><rect x="669" y="533" width="3" height="7" fill="#089981"/><rect x="670" y="534" width="1" height="5" fill="#22e01f"/><rect x="673" y="530" width="1" height="7" fill="#f23645"/><rect x="672" y="533" width="3" height="1" fill="#f23645"/><rect x="677" y="520" width="1" height="20" fill="#f23645"/><rect x="676" y="533" width="3" height="4" fill="#f23645"/><rect x="680" y="534" width="1" height="8" fill="#089981"/><rect x="679" y="536" width="3" height="1" fill="#089981"/><rect x="683" y="534" width="1" height="7" fill="#f23645"/><rect x="682" y="536" width="3" height="2" fill="#f23645"/><rect x="687" y="532" width="1" height="8" fill="#089981"/><rect x="686" y="533" width="3" height="5" fill="#089981"/><rect x="687" y="534" width="1" height="3" fill="#22e01f"/><rect x="690" y="492" width="1" height="41" fill="#089981"/><rect x="689" y="496" width="3" height="37" fill="#089981"/><rect x="690" y="497" width="1" height="35" fill="#22e01f"/><rect x="694" y="476" width="1" height="25" fill="#089981"/><rect x="693" y="481" width="3" height="15" fill="#089981"/><rect x="694" y="482" width="1" height="13" fill="#22e01f"/><rect x="697" y="471" width="1" height="13" fill="#089981"/><rect x="696" y="473" width="3" height="8" fill="#089981"/><rect x="697" y="474" width="1" height="6" fill="#22e01f"/><rect x="700" y="469" width="1" height="14" fill="#f23645"/><rect x="699" y="473" width="3" height="6" fill="#f23645"/><rect x="704" y="475" width="1" height="17" fill="#f23645"/><rect x="703" y="479" width="3" height="10" fill="#f23645"/><rect x="707" y="461" width="1" height="31" fill="#089981"/><rect x="706" y="469" width="3" height="20" fill="#089981"/><rect x="707" y="470" width="1" height="18" fill="#22e01f"/><rect x="711" y="462" width="1" height="19" fill="#f23645"/><rect x="710" y="469" width="3" height="5" fill="#f23645"/><rect x="714" y="471" width="1" height="16" fill="#f23645"/><rect x="713" y="474" width="3" height="9" fill="#f23645"/><rect x="717" y="482" width="1" height="26" fill="#f23645"/><rect x="716" y="483" width="3" height="3" fill="#f23645"/><rect x="721" y="439" width="1" height="49" fill="#089981"/><rect x="720" y="443" width="3" height="43" fill="#089981"/><rect x="721" y="444" width="1" height="41" fill="#22e01f"/><rect x="724" y="437" width="1" height="15" fill="#089981"/><rect x="723" y="443" width="3" height="1" fill="#089981"/><rect x="728" y="435" width="1" height="18" fill="#089981"/><rect x="727" y="441" width="3" height="2" fill="#089981"/><rect x="731" y="437" width="1" height="11" fill="#089981"/><rect x="730" y="441" width="3" height="1" fill="#089981"/><rect x="734" y="424" width="1" height="18" fill="#089981"/><rect x="733" y="428" width="3" height="13" fill="#089981"/><rect x="734" y="429" width="1" height="11" fill="#22e01f"/><rect x="738" y="427" width="1" height="22" fill="#f23645"/><rect x="737" y="428" width="3" height="17" fill="#f23645"/><rect x="741" y="430" width="1" height="20" fill="#089981"/><rect x="740" y="435" width="3" height="10" fill="#089981"/><rect x="741" y="436" width="1" height="8" fill="#22e01f"/><rect x="745" y="431" width="1" height="14" fill="#f23645"/><rect x="744" y="435" width="3" height="5" fill="#f23645"/><rect x="748" y="438" width="1" height="20" fill="#f23645"/><rect x="747" y="440" width="3" height="10" fill="#f23645"/><rect x="752" y="445" width="1" height="9" fill="#f23645"/><rect x="751" y="450" width="3" height="1" fill="#f23645"/><rect x="755" y="440" width="1" height="17" fill="#089981"/><rect x="754" y="442" width="3" height="9" fill="#089981"/><rect x="755" y="443" width="1" height="7" fill="#22e01f"/><rect x="758" y="440" width="1" height="13" fill="#f23645"/><rect x="757" y="442" width="3" height="6" fill="#f23645"/><rect x="762" y="447" width="1" height="14" fill="#f23645"/><rect x="761" y="448" width="3" height="9" fill="#f23645"/><rect x="765" y="451" width="1" height="14" fill="#089981"/><rect x="764" y="454" width="3" height="3" fill="#089981"/><rect x="765" y="455" width="1" height="1" fill="#22e01f"/><rect x="769" y="421" width="1" height="33" fill="#089981"/><rect x="768" y="427" width="3" height="27" fill="#089981"/><rect x="769" y="428" width="1" height="25" fill="#22e01f"/><rect x="772" y="422" width="1" height="9" fill="#089981"/><rect x="771" y="426" width="3" height="1" fill="#089981"/><rect x="775" y="421" width="1" height="11" fill="#f23645"/><rect x="774" y="426" width="3" height="3" fill="#f23645"/><rect x="779" y="419" width="1" height="12" fill="#089981"/><rect x="778" y="429" width="3" height="1" fill="#089981"/><rect x="782" y="428" width="1" height="5" fill="#f23645"/><rect x="781" y="429" width="3" height="1" fill="#f23645"/><rect x="786" y="429" width="1" height="8" fill="#f23645"/><rect x="785" y="430" width="3" height="4" fill="#f23645"/><rect x="789" y="430" width="1" height="9" fill="#f23645"/><rect x="788" y="434" width="3" height="2" fill="#f23645"/><rect x="792" y="428" width="1" height="10" fill="#089981"/><rect x="791" y="434" width="3" height="2" fill="#089981"/><rect x="796" y="432" width="1" height="30" fill="#f23645"/><rect x="795" y="434" width="3" height="21" fill="#f23645"/><rect x="799" y="451" width="1" height="10" fill="#f23645"/><rect x="798" y="455" width="3" height="1" fill="#f23645"/><rect x="803" y="442" width="1" height="19" fill="#f23645"/><rect x="802" y="456" width="3" height="1" fill="#f23645"/><rect x="806" y="453" width="1" height="8" fill="#f23645"/><rect x="805" y="456" width="3" height="1" fill="#f23645"/><rect x="810" y="450" width="1" height="14" fill="#089981"/><rect x="809" y="453" width="3" height="4" fill="#089981"/><rect x="810" y="454" width="1" height="2" fill="#22e01f"/><rect x="813" y="446" width="1" height="8" fill="#f23645"/><rect x="812" y="453" width="3" height="1" fill="#f23645"/><rect x="816" y="442" width="1" height="14" fill="#089981"/><rect x="815" y="443" width="3" height="11" fill="#089981"/><rect x="816" y="444" width="1" height="9" fill="#22e01f"/><rect x="820" y="439" width="1" height="9" fill="#f23645"/><rect x="819" y="443" width="3" height="1" fill="#f23645"/><rect x="823" y="443" width="1" height="10" fill="#f23645"/><rect x="822" y="443" width="3" height="5" fill="#f23645"/><rect x="827" y="428" width="1" height="21" fill="#089981"/><rect x="826" y="430" width="3" height="18" fill="#089981"/><rect x="827" y="431" width="1" height="16" fill="#22e01f"/><rect x="830" y="401" width="1" height="30" fill="#089981"/><rect x="829" y="404" width="3" height="26" fill="#089981"/><rect x="830" y="405" width="1" height="24" fill="#22e01f"/><rect x="833" y="397" width="1" height="10" fill="#089981"/><rect x="832" y="402" width="3" height="2" fill="#089981"/><rect x="837" y="387" width="1" height="17" fill="#089981"/><rect x="836" y="391" width="3" height="11" fill="#089981"/><rect x="837" y="392" width="1" height="9" fill="#22e01f"/><rect x="840" y="387" width="1" height="16" fill="#089981"/><rect x="839" y="390" width="3" height="1" fill="#089981"/><rect x="844" y="385" width="1" height="14" fill="#089981"/><rect x="843" y="389" width="3" height="1" fill="#089981"/><rect x="847" y="376" width="1" height="17" fill="#089981"/><rect x="846" y="377" width="3" height="12" fill="#089981"/><rect x="847" y="378" width="1" height="10" fill="#22e01f"/><rect x="850" y="357" width="1" height="21" fill="#089981"/><rect x="849" y="361" width="3" height="16" fill="#089981"/><rect x="850" y="362" width="1" height="14" fill="#22e01f"/><rect x="854" y="361" width="1" height="15" fill="#f23645"/><rect x="853" y="361" width="3" height="10" fill="#f23645"/><rect x="857" y="358" width="1" height="17" fill="#089981"/><rect x="856" y="362" width="3" height="9" fill="#089981"/><rect x="857" y="363" width="1" height="7" fill="#22e01f"/><rect x="861" y="361" width="1" height="10" fill="#f23645"/><rect x="860" y="362" width="3" height="5" fill="#f23645"/><rect x="864" y="352" width="1" height="22" fill="#089981"/><rect x="863" y="360" width="3" height="7" fill="#089981"/><rect x="864" y="361" width="1" height="5" fill="#22e01f"/><rect x="867" y="340" width="1" height="31" fill="#f23645"/><rect x="866" y="360" width="3" height="9" fill="#f23645"/><rect x="871" y="362" width="1" height="14" fill="#f23645"/><rect x="870" y="369" width="3" height="1" fill="#f23645"/><rect x="874" y="365" width="1" height="19" fill="#089981"/><rect x="873" y="368" width="3" height="2" fill="#089981"/><rect x="878" y="360" width="1" height="9" fill="#089981"/><rect x="877" y="366" width="3" height="2" fill="#089981"/><rect x="881" y="342" width="1" height="25" fill="#089981"/><rect x="880" y="343" width="3" height="23" fill="#089981"/><rect x="881" y="344" width="1" height="21" fill="#22e01f"/><rect x="885" y="326" width="1" height="19" fill="#089981"/><rect x="884" y="329" width="3" height="14" fill="#089981"/><rect x="885" y="330" width="1" height="12" fill="#22e01f"/><rect x="888" y="326" width="1" height="9" fill="#f23645"/><rect x="887" y="329" width="3" height="1" fill="#f23645"/><rect x="891" y="291" width="1" height="42" fill="#089981"/><rect x="890" y="294" width="3" height="36" fill="#089981"/><rect x="891" y="295" width="1" height="34" fill="#22e01f"/><rect x="895" y="274" width="1" height="32" fill="#089981"/><rect x="894" y="278" width="3" height="16" fill="#089981"/><rect x="895" y="279" width="1" height="14" fill="#22e01f"/><rect x="898" y="265" width="1" height="25" fill="#f23645"/><rect x="897" y="278" width="3" height="1" fill="#f23645"/><rect x="902" y="278" width="1" height="23" fill="#f23645"/><rect x="901" y="279" width="3" height="3" fill="#f23645"/><rect x="905" y="270" width="1" height="14" fill="#089981"/><rect x="904" y="271" width="3" height="11" fill="#089981"/><rect x="905" y="272" width="1" height="9" fill="#22e01f"/><rect x="908" y="271" width="1" height="19" fill="#f23645"/><rect x="907" y="271" width="3" height="5" fill="#f23645"/><rect x="912" y="268" width="1" height="33" fill="#f23645"/><rect x="911" y="276" width="3" height="10" fill="#f23645"/><rect x="915" y="283" width="1" height="21" fill="#f23645"/><rect x="914" y="286" width="3" height="3" fill="#f23645"/><rect x="919" y="282" width="1" height="14" fill="#f23645"/><rect x="918" y="289" width="3" height="5" fill="#f23645"/><rect x="922" y="289" width="1" height="25" fill="#089981"/><rect x="921" y="291" width="3" height="3" fill="#089981"/><rect x="922" y="292" width="1" height="1" fill="#22e01f"/><rect x="925" y="287" width="1" height="15" fill="#f23645"/><rect x="924" y="291" width="3" height="8" fill="#f23645"/><rect x="929" y="281" width="1" height="20" fill="#089981"/><rect x="928" y="285" width="3" height="14" fill="#089981"/><rect x="929" y="286" width="1" height="12" fill="#22e01f"/><rect x="932" y="270" width="1" height="16" fill="#089981"/><rect x="931" y="279" width="3" height="6" fill="#089981"/><rect x="932" y="280" width="1" height="4" fill="#22e01f"/><rect x="936" y="273" width="1" height="11" fill="#f23645"/><rect x="935" y="279" width="3" height="2" fill="#f23645"/><rect x="939" y="270" width="1" height="12" fill="#089981"/><rect x="938" y="276" width="3" height="5" fill="#089981"/><rect x="939" y="277" width="1" height="3" fill="#22e01f"/><rect x="942" y="274" width="1" height="14" fill="#f23645"/><rect x="941" y="276" width="3" height="8" fill="#f23645"/><rect x="946" y="282" width="1" height="11" fill="#f23645"/><rect x="945" y="284" width="3" height="9" fill="#f23645"/><rect x="949" y="293" width="1" height="15" fill="#f23645"/><rect x="948" y="293" width="3" height="2" fill="#f23645"/><rect x="953" y="292" width="1" height="32" fill="#f23645"/><rect x="952" y="295" width="3" height="21" fill="#f23645"/><rect x="956" y="299" width="1" height="22" fill="#089981"/><rect x="955" y="301" width="3" height="15" fill="#089981"/><rect x="956" y="302" width="1" height="13" fill="#22e01f"/><rect x="960" y="279" width="1" height="22" fill="#089981"/><rect x="959" y="280" width="3" height="21" fill="#089981"/><rect x="960" y="281" width="1" height="19" fill="#22e01f"/><rect x="963" y="276" width="1" height="17" fill="#089981"/><rect x="962" y="279" width="3" height="1" fill="#089981"/><rect x="966" y="275" width="1" height="37" fill="#f23645"/><rect x="965" y="279" width="3" height="30" fill="#f23645"/><rect x="970" y="295" width="1" height="45" fill="#089981"/><rect x="969" y="307" width="3" height="2" fill="#089981"/><rect x="973" y="298" width="1" height="17" fill="#f23645"/><rect x="972" y="307" width="3" height="1" fill="#f23645"/><rect x="977" y="288" width="1" height="22" fill="#089981"/><rect x="976" y="291" width="3" height="17" fill="#089981"/><rect x="977" y="292" width="1" height="15" fill="#22e01f"/><rect x="980" y="290" width="1" height="22" fill="#f23645"/><rect x="979" y="291" width="3" height="20" fill="#f23645"/><rect x="983" y="304" width="1" height="23" fill="#f23645"/><rect x="982" y="311" width="3" height="8" fill="#f23645"/><rect x="987" y="301" width="1" height="19" fill="#089981"/><rect x="986" y="306" width="3" height="13" fill="#089981"/><rect x="987" y="307" width="1" height="11" fill="#22e01f"/><rect x="990" y="291" width="1" height="20" fill="#089981"/><rect x="989" y="292" width="3" height="14" fill="#089981"/><rect x="990" y="293" width="1" height="12" fill="#22e01f"/><rect x="994" y="284" width="1" height="12" fill="#089981"/><rect x="993" y="287" width="3" height="5" fill="#089981"/><rect x="994" y="288" width="1" height="3" fill="#22e01f"/><rect x="997" y="287" width="1" height="17" fill="#f23645"/><rect x="996" y="287" width="3" height="8" fill="#f23645"/><rect x="1000" y="290" width="1" height="16" fill="#089981"/><rect x="999" y="294" width="3" height="1" fill="#089981"/><rect x="1004" y="277" width="1" height="19" fill="#089981"/><rect x="1003" y="277" width="3" height="17" fill="#089981"/><rect x="1004" y="278" width="1" height="15" fill="#22e01f"/><rect x="1007" y="276" width="1" height="12" fill="#f23645"/><rect x="1006" y="277" width="3" height="3" fill="#f23645"/><rect x="1011" y="266" width="1" height="15" fill="#089981"/><rect x="1010" y="278" width="3" height="2" fill="#089981"/><rect x="1014" y="247" width="1" height="36" fill="#089981"/><rect x="1013" y="249" width="3" height="29" fill="#089981"/><rect x="1014" y="250" width="1" height="27" fill="#22e01f"/><rect x="1018" y="248" width="1" height="8" fill="#089981"/><rect x="1017" y="249" width="3" height="7" fill="#089981"/><rect x="1018" y="250" width="1" height="5" fill="#22e01f"/></g>
</svg>
<div class="t" style="left:440.40px;top:228.00px;font-size:37.79px;color:#ff9800;font-weight:bold;-webkit-text-stroke:0;font-style:italic;transform:scaleX(0.9089);">Bullish zone</div><div class="t" style="left:976.00px;top:113.00px;font-size:30.38px;color:#19c33a;font-weight:bold;-webkit-text-stroke:0;font-style:italic;transform:scaleX(0.9296);">+93%</div><svg width="1441" height="603"><line x1="965" x2="1060" y1="128.5" y2="128.5" stroke="#e65100" stroke-width="1" stroke-dasharray="1 2"/></svg><div style="position:absolute;left:125.5px;top:227.3px;width:161.5px;height:48.3px;border:2px solid #f7931a;background:#fff"></div><div class="t" style="left:131.30px;top:232.00px;font-size:20.35px;color:#f7931a;font-weight:bold;-webkit-text-stroke:0;transform:scaleX(0.9795);">TradingView</div><div class="t" style="left:149.30px;top:254.00px;font-size:20.35px;color:#f7931a;font-weight:bold;-webkit-text-stroke:0;transform:scaleX(0.9473);">@AlanSantana</div>
<div style="position:absolute;left:1320px;top:10px;width:116px;height:587px;background:#fff"></div><div class="t" style="left:1333.40px;top:139.00px;font-size:17.73px;color:#131722;transform:scaleX(0.9915);">140,000.00</div><div class="t" style="left:1333.40px;top:378.00px;font-size:17.73px;color:#131722;transform:scaleX(0.9885);">38,000.00</div><div class="t" style="left:1333.40px;top:434.00px;font-size:17.73px;color:#131722;transform:scaleX(0.9885);">28,000.00</div><div class="t" style="left:1333.40px;top:496.00px;font-size:17.73px;color:#131722;transform:scaleX(0.9885);">20,000.00</div><div class="t" style="left:1333.40px;top:541.00px;font-size:17.73px;color:#131722;transform:scaleX(0.9885);">15,600.00</div><div class="t" style="left:1334.00px;top:73.00px;font-size:17.73px;color:#131722;transform:scaleX(0.9848);">200,000.00</div><div class="t" style="left:1334.00px;top:201.00px;font-size:17.73px;color:#131722;transform:scaleX(0.9848);">100,000.00</div><div style="position:absolute;left:1320px;top:60.90px;width:109.8px;height:26.80px;background:#19c33a;border-radius:0 3px 3px 0"></div><div class="t" style="left:1334.00px;top:66.00px;font-size:17.73px;color:#fff;font-weight:bold;-webkit-text-stroke:0;transform:scaleX(0.9859);">209,123.50</div><div style="position:absolute;left:1320px;top:114.90px;width:109.8px;height:26.80px;background:#19c33a;border-radius:0 3px 3px 0"></div><div class="t" style="left:1334.00px;top:120.00px;font-size:17.73px;color:#fff;font-weight:bold;-webkit-text-stroke:0;transform:scaleX(0.9859);">155,599.53</div><div style="position:absolute;left:1320px;top:184.80px;width:109.8px;height:26.80px;background:#19c33a;border-radius:0 3px 3px 0"></div><div class="t" style="left:1334.00px;top:190.00px;font-size:17.73px;color:#fff;font-weight:bold;-webkit-text-stroke:0;transform:scaleX(0.9859);">102,075.56</div><div style="position:absolute;left:1320px;top:211.60px;width:98.4px;height:25.40px;background:#e3effd;border-radius:0 3px 3px 0"></div><div class="t" style="left:1333.40px;top:215.00px;font-size:17.73px;color:#131722;transform:scaleX(0.9885);">81,499.25</div><div style="position:absolute;left:1320px;top:237.00px;width:98.4px;height:25.60px;background:#20ee0e;border-radius:0 3px 3px 0"></div><div class="t" style="left:1333.40px;top:241.00px;font-size:17.73px;color:#000;transform:scaleX(0.9885);">80,591.07</div><div style="position:absolute;left:1320px;top:264.20px;width:98.4px;height:26.30px;background:#ff9800;border-radius:0 3px 3px 0"></div><div class="t" style="left:1333.40px;top:268.00px;font-size:17.73px;color:#000;transform:scaleX(0.9885);">68,997.75</div><div style="position:absolute;left:1320px;top:290.50px;width:98.4px;height:26.20px;background:#ff9800;border-radius:0 3px 3px 0"></div><div class="t" style="left:1333.40px;top:294.00px;font-size:17.73px;color:#000;transform:scaleX(0.9885);">64,898.56</div><div style="position:absolute;left:1320px;top:329.00px;width:98.4px;height:26.80px;background:#2962ff;border-radius:0 3px 3px 0"></div><div class="t" style="left:1333.40px;top:333.00px;font-size:17.73px;color:#fff;font-weight:bold;-webkit-text-stroke:0;transform:scaleX(0.9885);">48,551.59</div><div style="position:absolute;left:1271.5px;top:209.7px;width:48.5px;height:26.9px;background:#e3effd;border-radius:3px 0 0 3px"></div><div class="t" style="left:1278.50px;top:215.00px;font-size:17.73px;color:#131722;transform:scaleX(0.9330);">High</div><div style="position:absolute;left:1244.3px;top:236.6px;width:75.7px;height:26px;background:#20ee0e;border-radius:3px 0 0 3px"></div><div class="t" style="left:1251.20px;top:241.00px;font-size:17.73px;color:#000;transform:scaleX(0.8397);">BTCUSD</div><div style="position:absolute;left:1325px;top:16px;width:103.5px;height:36.5px;border:1px solid #e0e3eb;border-radius:6px;background:#fff"></div><div class="t" style="left:1331.00px;top:27.00px;font-size:17.73px;color:#131722;transform:scaleX(0.8285);">USD</div><div style="position:absolute;left:1319px;top:10px;width:1px;height:587px;background:#b4b7c2"></div><div style="position:absolute;left:8px;top:556px;width:1428px;height:1px;background:#b4b7c2"></div><div style="position:absolute;left:8px;top:557px;width:1311px;height:40px;background:#fff"></div><div style="position:absolute;left:1320px;top:557px;width:117px;height:41px;background:#fff"></div><div class="t" style="left:134.80px;top:570.00px;font-size:17.15px;color:#131722;font-weight:bold;-webkit-text-stroke:0;transform:scaleX(1.0796);">2020</div><div class="t" style="left:311.80px;top:570.00px;font-size:17.15px;color:#131722;font-weight:bold;-webkit-text-stroke:0;transform:scaleX(1.0796);">2021</div><div class="t" style="left:489.30px;top:570.00px;font-size:17.15px;color:#131722;font-weight:bold;-webkit-text-stroke:0;transform:scaleX(1.0796);">2022</div><div class="t" style="left:666.80px;top:570.00px;font-size:17.15px;color:#131722;font-weight:bold;-webkit-text-stroke:0;transform:scaleX(1.0796);">2023</div><div class="t" style="left:843.80px;top:570.00px;font-size:17.15px;color:#131722;font-weight:bold;-webkit-text-stroke:0;transform:scaleX(1.0796);">2024</div><div class="t" style="left:1024.80px;top:570.00px;font-size:17.15px;color:#131722;font-weight:bold;-webkit-text-stroke:0;transform:scaleX(1.0796);">2025</div><div class="t" style="left:1201.80px;top:570.00px;font-size:17.15px;color:#131722;font-weight:bold;-webkit-text-stroke:0;transform:scaleX(1.0796);">2026</div>
<svg style="position:absolute;left:21px;top:21px" width="27" height="27" viewBox="0 0 27 27"><circle cx="13.5" cy="13.5" r="13.5" fill="#f7931a"/><text x="13.7" y="19.3" text-anchor="middle" font-family="Liberation Sans" font-weight="bold" font-size="16" fill="#fff" stroke="#fff" stroke-width="0.8" transform="rotate(13 13.5 13.5)">B</text><g transform="rotate(13 13.5 13.5)" fill="#fff"><rect x="10.6" y="5.2" width="1.7" height="3.4"/><rect x="13.8" y="5.2" width="1.7" height="3.4"/><rect x="10.6" y="18.6" width="1.7" height="3.4"/><rect x="13.8" y="18.6" width="1.7" height="3.4"/><rect x="7.8" y="7.6" width="2" height="2.2"/><rect x="7.8" y="17.4" width="2" height="2.2"/></g></svg><div class="t" style="left:55.30px;top:24.00px;font-size:23.69px;color:#131722;transform:scaleX(0.8195);">BTCUSD</div><div style="position:absolute;left:145.35px;top:33.45px;width:3.5px;height:3.5px;border-radius:40%;background:#131722"></div><div class="t" style="left:158.20px;top:24.00px;font-size:23.69px;color:#131722;transform:scaleX(1.0032);">Bitcoin</div><div class="t" style="left:240.00px;top:24.00px;font-size:23.69px;color:#131722;transform:scaleX(0.9045);">/</div><div class="t" style="left:258.70px;top:24.00px;font-size:23.69px;color:#131722;transform:scaleX(0.8420);">U.S.</div><div class="t" style="left:310.60px;top:24.00px;font-size:23.69px;color:#131722;transform:scaleX(0.9930);">Dollar</div><div style="position:absolute;left:380.35px;top:33.45px;width:3.5px;height:3.5px;border-radius:40%;background:#131722"></div><div class="t" style="left:394.00px;top:24.00px;font-size:23.69px;color:#131722;transform:scaleX(0.8160);">1W</div><div style="position:absolute;left:430.65px;top:33.45px;width:3.5px;height:3.5px;border-radius:40%;background:#131722"></div><div class="t" style="left:444.30px;top:24.00px;font-size:23.69px;color:#131722;transform:scaleX(0.8331);">INDEX</div><div class="t" style="left:517.30px;top:24.00px;font-size:20.06px;color:#131722;transform:scaleX(0.8757);">O</div><div class="t" style="left:532.30px;top:24.00px;font-size:20.06px;color:#089981;transform:scaleX(0.9478);">77,637.84</div><div class="t" style="left:627.80px;top:24.00px;font-size:20.06px;color:#131722;transform:scaleX(0.7271);">H</div><div class="t" style="left:641.20px;top:24.00px;font-size:20.06px;color:#089981;transform:scaleX(0.9467);">80,835.58</div><div class="t" style="left:737.30px;top:24.00px;font-size:20.06px;color:#131722;transform:scaleX(0.6917);">L</div><div class="t" style="left:748.00px;top:24.00px;font-size:20.06px;color:#089981;transform:scaleX(0.9523);">77,637.84</div><div class="t" style="left:842.90px;top:24.00px;font-size:20.06px;color:#131722;transform:scaleX(0.7340);">C</div><div class="t" style="left:856.20px;top:24.00px;font-size:20.06px;color:#089981;transform:scaleX(0.9444);">80,591.07</div><div class="t" style="left:951.80px;top:24.00px;font-size:20.06px;color:#131722;transform:scaleX(0.8536);">Vol</div><div class="t" style="left:978.60px;top:24.00px;font-size:20.06px;color:#089981;transform:scaleX(0.9319);">649.45</div><div class="t" style="left:1047.70px;top:24.00px;font-size:20.06px;color:#089981;transform:scaleX(0.9068);">+495.15 (+0.62%)</div><div style="position:absolute;left:22px;top:55px;width:43.5px;height:28.5px;border:1px solid #e0e3eb;border-radius:4px;background:#fff"></div><svg style="position:absolute;left:30px;top:64px" width="16" height="12" viewBox="0 0 16 12"><path d="M1.5,3.5 L7,9 L12.5,3.5" fill="none" stroke="#131722" stroke-width="2"/></svg><div class="t" style="left:53.00px;top:61.00px;font-size:18.90px;color:#131722;transform:scaleX(0.5531);">1</div>
<svg style="position:absolute;left:0;top:0" width="1441" height="603"><rect x="44" y="512.5" width="13" height="28.5" fill="#fff"/><g stroke="#fff" stroke-width="7" stroke-linejoin="round" fill="#131722" paint-order="stroke"><path d="M26,515.6 H44.6 V537.6 H35 V524.6 H26 Z"/><circle cx="51.4" cy="520.1" r="4.4"/><path d="M59.6,515.6 H70.6 L62,537.6 H51.4 Z"/></g></svg><div class="t" style="left:81.50px;top:512.00px;font-size:31.98px;color:#131722;font-weight:bold;-webkit-text-stroke:0;transform:scaleX(0.9640);-webkit-text-stroke:8.5px #fff;">TradingView</div><div class="t" style="left:81.50px;top:512.00px;font-size:31.98px;color:#131722;font-weight:bold;-webkit-text-stroke:0;transform:scaleX(0.9640);">TradingView</div>
<div style="position:absolute;left:1208.4px;top:264.4px;width:74.6px;height:74.6px;border-radius:50%;background:rgba(255,255,255,.92);box-shadow:0 2px 8px rgba(0,0,0,.18)"></div><svg style="position:absolute;left:1236px;top:287px" width="26" height="30" viewBox="0 0 26 30"><path d="M3.2,3.2 L21,14.5 L3.2,25.8 Z" fill="#3a6df6" stroke="#3a6df6" stroke-width="2.6" stroke-linejoin="round"/></svg>
</div></div>
<div id="frame"></div>
</body></html>
